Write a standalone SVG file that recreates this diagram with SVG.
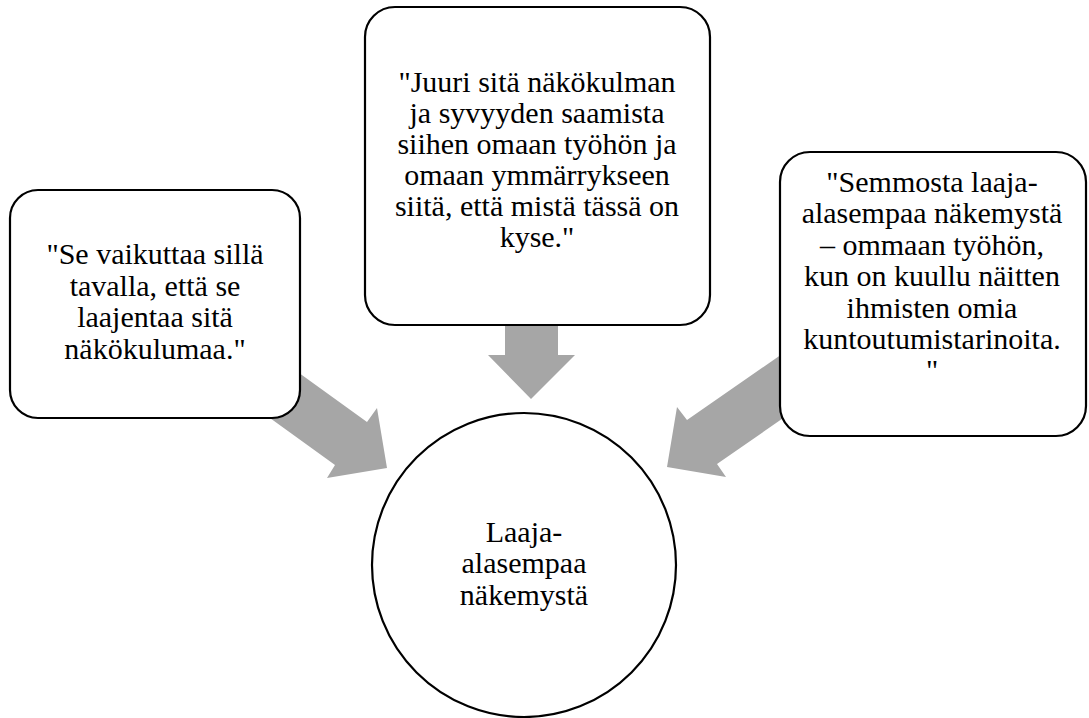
<svg xmlns="http://www.w3.org/2000/svg" width="1089" height="718" viewBox="0 0 1089 718">
<rect width="1089" height="718" fill="#fff"/>
<g id="connectors" fill="#a6a6a6" stroke="none">
<polygon points="270,352 367,422 377,408 387,468 327,478 335,465 238,395"/>
<polygon points="505,300 558,300 558,355 575,355 531,399 488,355 505,355"/>
<polygon points="785,352 687,420 677,407 667,467 726,477 717,464 815,396"/>
</g>
<g id="node-left">
<rect x="10" y="190" width="290" height="228" rx="28" fill="#fff" stroke="#000" stroke-width="2.2"/>
<text x="155" y="264" font-family="Times New Roman" font-size="30" text-anchor="middle">"Se vaikuttaa sill&#228;</text>
<text x="155" y="296" font-family="Times New Roman" font-size="30" text-anchor="middle">tavalla, ett&#228; se</text>
<text x="155" y="327" font-family="Times New Roman" font-size="30" text-anchor="middle">laajentaa sit&#228;</text>
<text x="155" y="359" font-family="Times New Roman" font-size="30" text-anchor="middle">n&#228;k&#246;kulumaa."</text>
</g>
<g id="node-middle">
<rect x="365" y="7" width="345" height="318" rx="30" fill="#fff" stroke="#000" stroke-width="2.2"/>
<text x="537" y="92" font-family="Times New Roman" font-size="30" text-anchor="middle">"Juuri sit&#228; n&#228;k&#246;kulman</text>
<text x="537" y="123" font-family="Times New Roman" font-size="30" text-anchor="middle">ja syvyyden saamista</text>
<text x="537" y="154" font-family="Times New Roman" font-size="30" text-anchor="middle">siihen omaan ty&#246;h&#246;n ja</text>
<text x="537" y="185" font-family="Times New Roman" font-size="30" text-anchor="middle">omaan ymm&#228;rrykseen</text>
<text x="537" y="216" font-family="Times New Roman" font-size="30" text-anchor="middle">siit&#228;, ett&#228; mist&#228; t&#228;ss&#228; on</text>
<text x="537" y="247" font-family="Times New Roman" font-size="30" text-anchor="middle">kyse."</text>
</g>
<g id="node-right">
<rect x="780" y="152" width="306" height="284" rx="30" fill="#fff" stroke="#000" stroke-width="2.2"/>
<text x="932" y="192" font-family="Times New Roman" font-size="30" text-anchor="middle">"Semmosta laaja-</text>
<text x="932" y="223" font-family="Times New Roman" font-size="30" text-anchor="middle">alasempaa n&#228;kemyst&#228;</text>
<text x="932" y="255" font-family="Times New Roman" font-size="30" text-anchor="middle">&#8211; ommaan ty&#246;h&#246;n,</text>
<text x="932" y="286" font-family="Times New Roman" font-size="30" text-anchor="middle">kun on kuullu n&#228;itten</text>
<text x="932" y="318" font-family="Times New Roman" font-size="30" text-anchor="middle">ihmisten omia</text>
<text x="932" y="349" font-family="Times New Roman" font-size="30" text-anchor="middle">kuntoutumistarinoita.</text>
<text x="932" y="380" font-family="Times New Roman" font-size="30" text-anchor="middle">"</text>
</g>
<g id="node-center">
<circle cx="524" cy="565" r="152" fill="#fff" stroke="#000" stroke-width="2.2"/>
<text x="524" y="542" font-family="Times New Roman" font-size="30" text-anchor="middle">Laaja-</text>
<text x="524" y="573" font-family="Times New Roman" font-size="30" text-anchor="middle">alasempaa</text>
<text x="524" y="605" font-family="Times New Roman" font-size="30" text-anchor="middle">n&#228;kemyst&#228;</text>
</g>
</svg>
